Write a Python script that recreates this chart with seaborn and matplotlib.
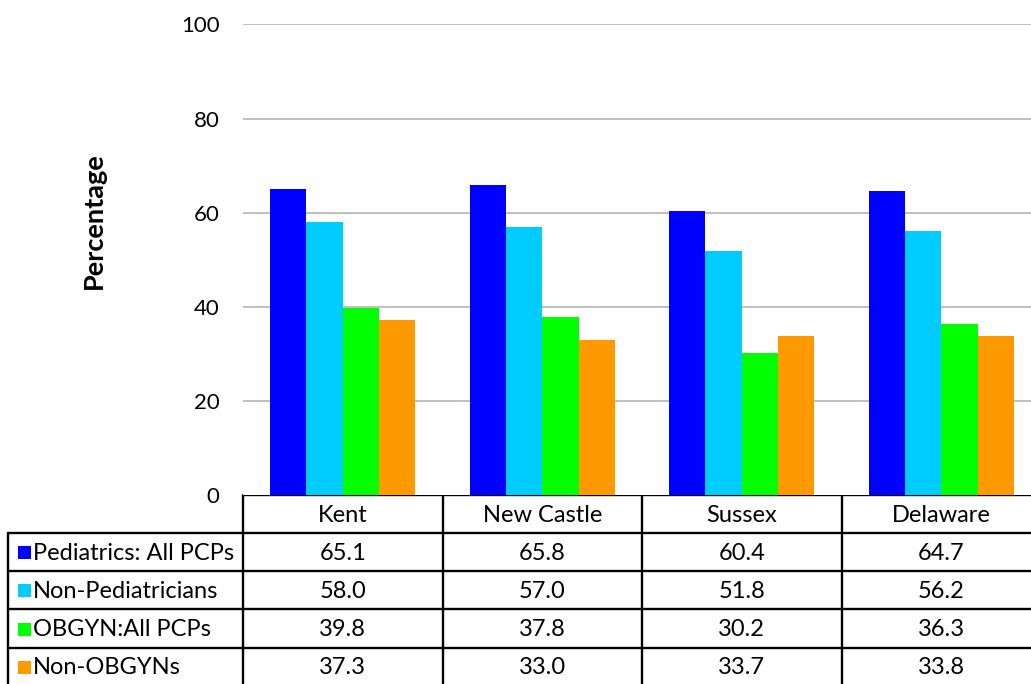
import matplotlib
matplotlib.use('Agg')
import matplotlib.pyplot as plt
from matplotlib.patches import Rectangle
import seaborn as sns
import pandas as pd

counties = ['Kent', 'New Castle', 'Sussex', 'Delaware']
series = ['Pediatrics: All PCPs', 'Non-Pediatricians', 'OBGYN:All PCPs', 'Non-OBGYNs']
pediatrics = [65.1, 65.8, 60.4, 64.7]
non_pediatricians = [58.0, 57.0, 51.8, 56.2]
obgyn = [39.8, 37.8, 30.2, 36.3]
non_obgyn = [37.3, 33.0, 33.7, 33.8]
colors = ['#0000FF', '#00CCFF', '#00FF00', '#FF9900']

values = [pediatrics, non_pediatricians, obgyn, non_obgyn]
df = pd.DataFrame([
    {'county': c, 'series': s, 'value': v}
    for s, vals in zip(series, values)
    for c, v in zip(counties, vals)
])

sns.set_theme(style='white')
plt.rcParams['font.family'] = ['Lato', 'DejaVu Sans']

W, H = 1031, 684
fig = plt.figure(figsize=(W / 100, H / 100), dpi=100)

# plot area in pixels (right edge runs past the figure, as in the original crop)
AX_L, AX_R, AX_T, AX_B = 243, 1041, 24.5, 495
ax = fig.add_axes([AX_L / W, (H - AX_B) / H, (AX_R - AX_L) / W, (AX_B - AX_T) / H])

sns.barplot(data=df, x='county', y='value', hue='series', palette=colors,
            saturation=1, width=0.727, linewidth=0, legend=False, ax=ax)

ax.set_ylim(0, 100)
ax.set_yticks([0, 20, 40, 60, 80, 100])
ax.set_yticklabels(['0', '20', '40', '60', '80', '100'], fontsize=16, color='black')
ax.tick_params(axis='y', length=0, pad=17)
ax.set_xticks([])
ax.set_xlabel('')
ax.set_ylabel('Percentage', fontsize=19.5, fontweight='bold', color='black')
ax.yaxis.set_label_coords(-0.172, 0.584)
for y in [20, 40, 60, 80, 100]:
    ax.axhline(y, color='#BFBFBF', lw=1.4, zorder=0)
for sp in ax.spines.values():
    sp.set_visible(False)

# data table drawn underneath, in pixel coordinates
tab = fig.add_axes([0, 0, 1, 1], zorder=-1)
tab.set_xlim(0, W)
tab.set_ylim(H, 0)
tab.axis('off')

col_edges = [243, 442.5, 642, 841.5, 1041]
row_edges = [495, 533, 571, 609, 648, 686]
lc = 'black'
lw = 1.7

tab.plot([col_edges[0], W], [row_edges[0]] * 2, color=lc, lw=lw)
for y in row_edges[1:-1]:
    tab.plot([8, W], [y, y], color=lc, lw=lw)
tab.plot([8, 8], [row_edges[1], H], color=lc, lw=lw)
for x in col_edges[:-1]:
    tab.plot([x, x], [row_edges[0], H], color=lc, lw=lw)

for i, c in enumerate(counties):
    xc = (col_edges[i] + col_edges[i + 1]) / 2
    tab.text(xc, (row_edges[0] + row_edges[1]) / 2 + 1, c, ha='center', va='center',
             fontsize=17, color='black')

for r, (s, vals, col) in enumerate(zip(series, values, colors)):
    yc = (row_edges[r + 1] + row_edges[r + 2]) / 2
    tab.add_patch(Rectangle((18, yc - 6), 13, 13, color=col, lw=0))
    tab.text(33, yc + 1, s, ha='left', va='center', fontsize=17, color='black')
    for i, v in enumerate(vals):
        xc = (col_edges[i] + col_edges[i + 1]) / 2
        tab.text(xc, yc + 1, f'{v:.1f}', ha='center', va='center', fontsize=17, color='black')

fig.savefig('out.png', dpi=100)
